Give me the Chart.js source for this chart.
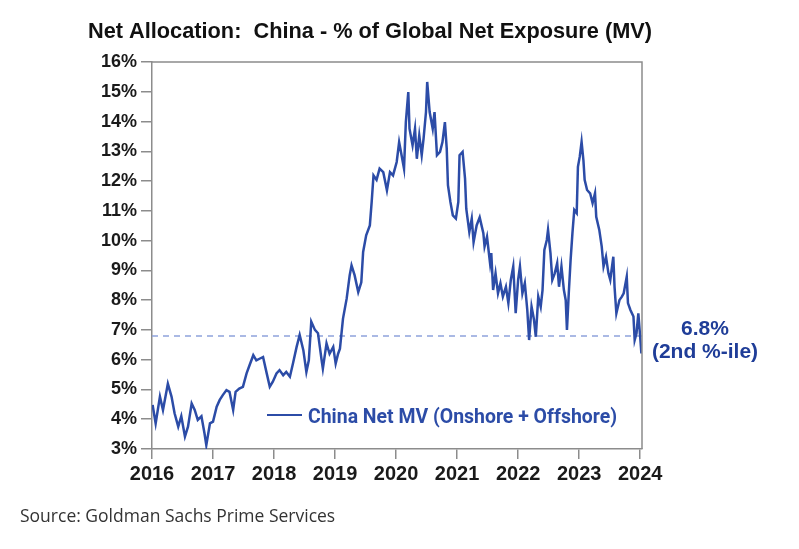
<!DOCTYPE html>
<html>
<head>
<meta charset="utf-8">
<title>Net Allocation: China - % of Global Net Exposure (MV)</title>
<script src="https://cdn.jsdelivr.net/npm/chart.js@4.4.1/dist/chart.umd.min.js"></script>
<style>
  html, body { margin: 0; padding: 0; background: #fff; }
  canvas { display: block; }
</style>
</head>
<body>
<canvas id="chart" width="799" height="549"></canvas>
<script>
// China net MV (onshore + offshore) as % of global net exposure
const dates = [
  2016.01, 2016.06, 2016.13, 2016.18, 2016.26, 2016.32, 2016.37, 2016.43, 2016.48, 2016.54,
  2016.59, 2016.65, 2016.70, 2016.75, 2016.81, 2016.86, 2016.89, 2016.95, 2017.00, 2017.06,
  2017.11, 2017.16, 2017.22, 2017.27, 2017.33, 2017.37, 2017.43, 2017.49, 2017.55, 2017.60,
  2017.66, 2017.71, 2017.77, 2017.82, 2017.88, 2017.93, 2017.98, 2018.04, 2018.09, 2018.15,
  2018.20, 2018.26, 2018.31, 2018.37, 2018.42, 2018.48, 2018.53, 2018.57, 2018.61, 2018.67,
  2018.72, 2018.78, 2018.80, 2018.86, 2018.91, 2018.97, 2019.01, 2019.05, 2019.08, 2019.13,
  2019.19, 2019.24, 2019.27, 2019.32, 2019.38, 2019.43, 2019.46, 2019.51, 2019.57, 2019.60,
  2019.63, 2019.68, 2019.73, 2019.79, 2019.85, 2019.90, 2019.95, 2020.01, 2020.05, 2020.09,
  2020.13, 2020.16, 2020.20, 2020.22, 2020.27, 2020.31, 2020.34, 2020.38, 2020.42, 2020.45,
  2020.49, 2020.51, 2020.55, 2020.60, 2020.63, 2020.67, 2020.72, 2020.76, 2020.80, 2020.83,
  2020.85, 2020.89, 2020.93, 2020.98, 2021.02, 2021.04, 2021.09, 2021.13, 2021.15, 2021.20,
  2021.24, 2021.27, 2021.32, 2021.37, 2021.43, 2021.45, 2021.49, 2021.54, 2021.56, 2021.59,
  2021.63, 2021.67, 2021.71, 2021.75, 2021.80, 2021.84, 2021.88, 2021.92, 2021.96, 2022.00,
  2022.03, 2022.07, 2022.11, 2022.15, 2022.18, 2022.22, 2022.26, 2022.29, 2022.33, 2022.37,
  2022.40, 2022.43, 2022.47, 2022.49, 2022.53, 2022.56, 2022.60, 2022.64, 2022.67, 2022.71,
  2022.75, 2022.78, 2022.80, 2022.83, 2022.86, 2022.89, 2022.92, 2022.96, 2022.98, 2023.01,
  2023.04, 2023.07, 2023.09, 2023.13, 2023.18, 2023.22, 2023.26, 2023.28, 2023.33, 2023.37,
  2023.40, 2023.44, 2023.48, 2023.51, 2023.56, 2023.58, 2023.61, 2023.66, 2023.70, 2023.73,
  2023.78, 2023.80, 2023.84, 2023.89, 2023.91, 2023.94, 2023.97, 2024.00, 2024.02
];
const netMV = [
  4.48, 3.86, 4.76, 4.31, 5.19, 4.76, 4.20, 3.75, 4.10, 3.42,
  3.75, 4.53, 4.31, 3.98, 4.10, 3.53, 3.13, 3.86, 3.92, 4.42,
  4.65, 4.81, 4.98, 4.92, 4.31, 4.92, 5.03, 5.09, 5.54, 5.82,
  6.15, 5.98, 6.04, 6.09, 5.54, 5.09, 5.26, 5.54, 5.65, 5.48,
  5.59, 5.43, 5.87, 6.43, 6.83, 6.32, 5.59, 5.98, 7.28, 7.00,
  6.89, 5.98, 5.70, 6.55, 6.20, 6.43, 5.87, 6.20, 6.37, 7.38,
  8.05, 8.84, 9.17, 8.84, 8.27, 8.60, 9.62, 10.18, 10.51, 11.30,
  12.19, 12.04, 12.42, 12.30, 11.69, 12.30, 12.19, 12.64, 13.31, 12.87,
  12.42, 13.98, 14.99, 13.76, 13.20, 13.76, 12.75, 13.53, 12.87, 13.42,
  14.32, 15.33, 14.32, 13.76, 14.32, 12.87, 12.98, 13.31, 13.98, 13.09,
  11.86, 11.30, 10.85, 10.74, 11.30, 12.87, 12.98, 12.08, 11.07, 10.29,
  10.74, 9.95, 10.51, 10.78, 10.25, 9.80, 10.13, 9.24, 9.58, 8.34,
  8.90, 8.23, 8.57, 8.12, 8.45, 7.90, 8.68, 9.13, 7.56, 8.68,
  9.13, 8.23, 8.57, 7.67, 6.66, 7.78, 7.34, 6.77, 8.12, 7.78,
  8.34, 9.69, 10.02, 10.36, 9.58, 8.68, 8.90, 9.24, 8.45, 9.13,
  8.34, 8.00, 7.00, 8.23, 9.35, 10.25, 11.03, 10.92, 12.48, 12.82,
  13.32, 12.70, 12.04, 11.70, 11.59, 11.26, 11.59, 10.80, 10.36, 9.80,
  9.13, 9.46, 8.90, 8.68, 9.46, 8.45, 7.56, 8.00, 8.12, 8.23,
  8.79, 7.90, 7.67, 7.45, 6.66, 6.89, 7.56, 6.77, 6.21
];
const xTicks = [2016, 2017, 2018, 2019, 2020, 2021, 2022, 2023, 2024];
const pctileLevel = 6.8;

const titleText = 'Net Allocation:  China - % of Global Net Exposure (MV)';
const seriesName = 'China Net MV (Onshore + Offshore)';
const sourceText = 'Source: Goldman Sachs Prime Services';

const lineBlue = '#2C4CA7';
const dashBlue = '#8FA3DC';
const noteBlue = '#1F3D98';
const axisGrey = '#8C8C8C';
const xMin = 2016, xMax = 2024.03;

// top + right border of the plot box
const frame = {
    id: 'frame',
    afterDatasetsDraw(chart) {
        const { ctx, chartArea: a } = chart;
        ctx.save();
        ctx.strokeStyle = axisGrey;
        ctx.lineWidth = 1.5;
        ctx.beginPath();
        ctx.moveTo(a.left, a.top);
        ctx.lineTo(a.right, a.top);
        ctx.lineTo(a.right, a.bottom);
        ctx.stroke();
        ctx.restore();
    }
};

// title, inline legend, percentile note, source
const texts = {
    id: 'texts',
    afterDraw(chart) {
        const ctx = chart.ctx;
        ctx.save();
        ctx.textBaseline = 'alphabetic';

        ctx.fillStyle = '#111';
        ctx.font = 'bold 22px "Liberation Sans", Arial, sans-serif';
        ctx.textAlign = 'left';
        ctx.fillText(titleText, 88, 38, 564);

        ctx.strokeStyle = lineBlue;
        ctx.lineWidth = 2;
        ctx.beginPath();
        ctx.moveTo(267, 415);
        ctx.lineTo(302, 415);
        ctx.stroke();
        ctx.fillStyle = lineBlue;
        ctx.font = 'bold 20px Roboto, sans-serif';
        ctx.fillText(seriesName, 308, 423, 309);

        ctx.fillStyle = noteBlue;
        ctx.font = 'bold 21px "Liberation Sans", Arial, sans-serif';
        ctx.textAlign = 'center';
        ctx.fillText(pctileLevel.toFixed(1) + '%', 705, 335);
        ctx.fillText('(2nd %-ile)', 705, 358);

        ctx.fillStyle = '#333';
        ctx.font = '17.5px "Open Sans", sans-serif';
        ctx.textAlign = 'left';
        ctx.fillText(sourceText, 20, 522, 318);
        ctx.restore();
    }
};

const ctx = document.getElementById('chart');
new Chart(ctx, {
    type: 'line',
    data: {
        datasets: [{
            label: seriesName,
            data: dates.map((d, i) => ({ x: d, y: netMV[i] })),
            borderColor: lineBlue,
            borderWidth: 2.5,
            pointRadius: 0,
            tension: 0
        }, {
            label: '2nd %-ile',
            data: [{ x: xMin, y: pctileLevel }, { x: xMax, y: pctileLevel }],
            borderColor: dashBlue,
            borderWidth: 1.5,
            borderDash: [6, 5],
            pointRadius: 0
        }]
    },
    options: {
        responsive: false,
        animation: false,
        layout: { padding: { left: 0, right: 157, top: 62, bottom: 60 } },
        plugins: {
            legend: { display: false },
            title: { display: false },
            tooltip: { enabled: false }
        },
        scales: {
            x: {
                type: 'linear',
                min: xMin,
                max: xMax,
                afterBuildTicks: s => { s.ticks = xTicks.map(v => ({ value: v })); },
                afterFit: s => { s.height = 40; },
                grid: { drawOnChartArea: false, tickLength: 10, color: axisGrey, lineWidth: 1.5 },
                border: { color: axisGrey, width: 1.5 },
                ticks: {
                    autoSkip: false,
                    maxRotation: 0,
                    padding: 3,
                    color: '#1a1a1a',
                    font: { family: '"Liberation Sans", Arial, sans-serif', size: 20, weight: 'bold' },
                    callback: v => String(v)
                }
            },
            y: {
                min: 3,
                max: 16,
                afterFit: s => { s.width = 152; },
                grid: { drawOnChartArea: false, tickLength: 11, color: axisGrey, lineWidth: 1.5 },
                border: { color: axisGrey, width: 1.5 },
                ticks: {
                    stepSize: 1,
                    padding: 4,
                    color: '#1a1a1a',
                    font: { family: '"Liberation Sans", Arial, sans-serif', size: 18, weight: 'bold' },
                    callback: v => v + '%'
                }
            }
        }
    },
    plugins: [frame, texts]
});
</script>
</body>
</html>
